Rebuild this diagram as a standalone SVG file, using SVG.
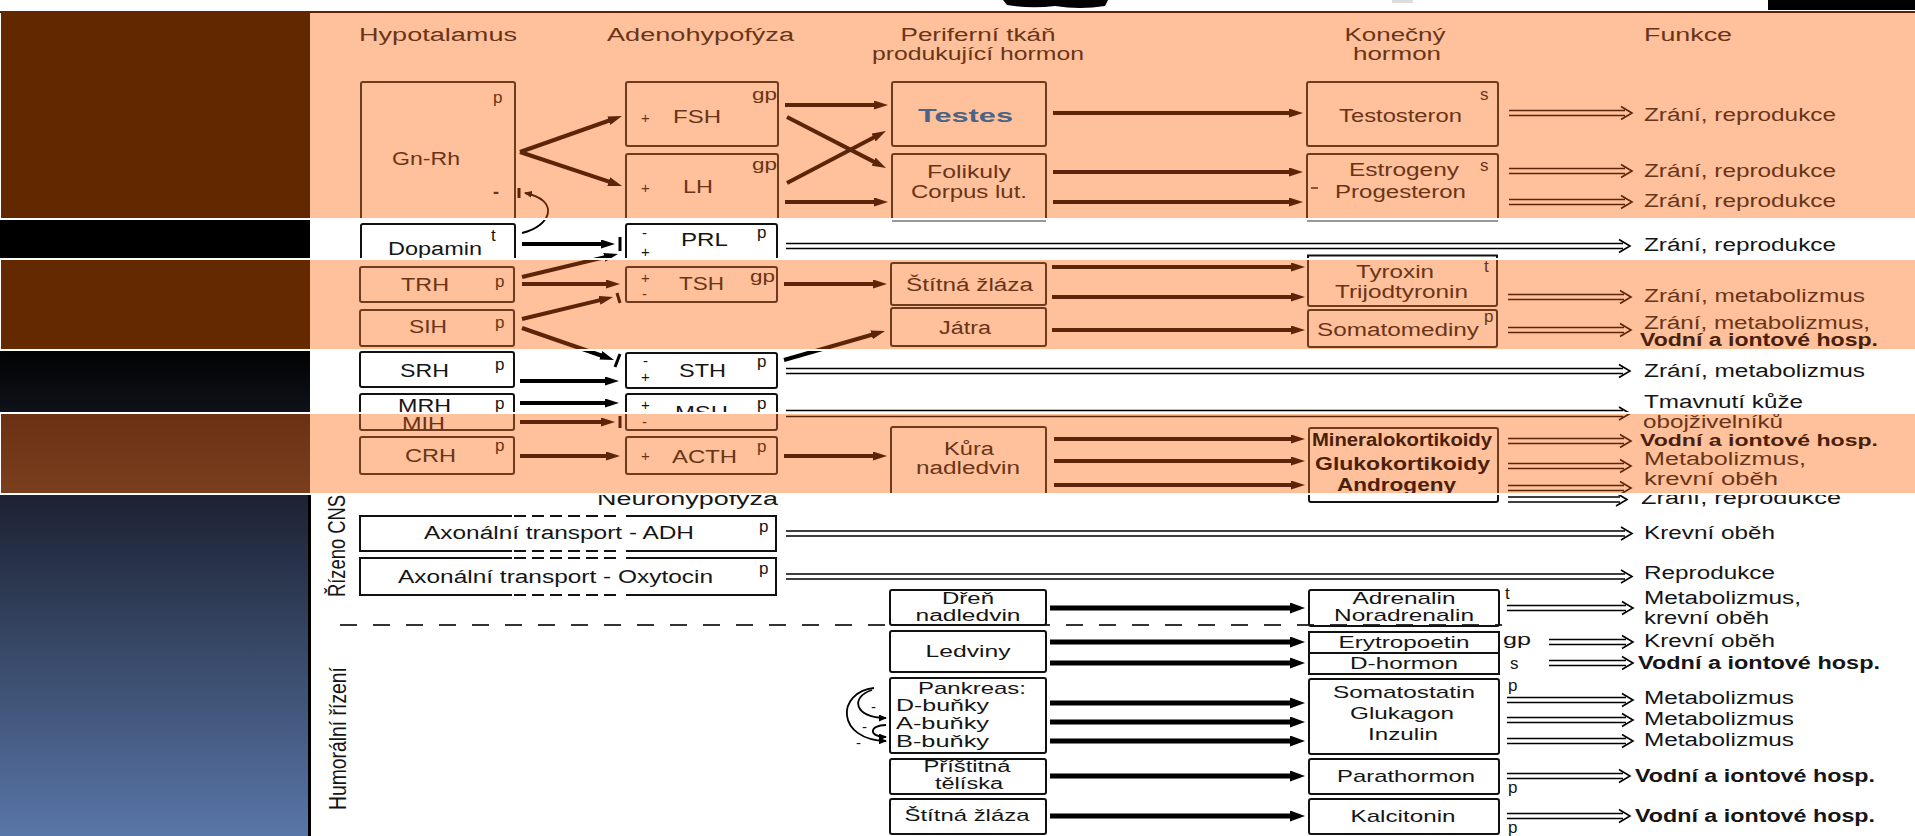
<svg xmlns="http://www.w3.org/2000/svg" width="1915" height="836" viewBox="0 0 1915 836">
<style>
.t{font-family:"Liberation Sans",Arial,sans-serif;font-size:18px}
.k{fill:#151515}
.b{fill:#6a3418}
.bd{font-weight:bold}
.bdb{fill:#4a200c;font-weight:bold}
.s{font-size:17px}
.s16{font-size:16px}
.m{font-size:15px}
.c{text-anchor:middle}
.bk{fill:none;stroke:#111;stroke-width:2}
.bn{fill:none;stroke:#6f3b1d;stroke-width:2}
.ab{fill:none;stroke:#5c2408;stroke-width:4;marker-end:url(#hb)}
.ak{fill:none;stroke:#000;stroke-width:4;marker-end:url(#hk)}
.akl{fill:none;stroke:#000;stroke-width:5;marker-end:url(#hkl)}
.dk{fill:none;stroke:#000;stroke-width:1.6}
.db{fill:none;stroke:#5c2408;stroke-width:1.6}
.bar{fill:none;stroke-width:3}
.arc{fill:none;stroke-width:1.8}
</style>
<defs>
<marker id="hb" markerUnits="userSpaceOnUse" markerWidth="14" markerHeight="9" refX="5" refY="4.5" orient="auto"><path d="M0,0L14,4.5L0,9z" fill="#5c2408"/></marker>
<marker id="hk" markerUnits="userSpaceOnUse" markerWidth="14" markerHeight="9" refX="5" refY="4.5" orient="auto"><path d="M0,0L14,4.5L0,9z" fill="#000"/></marker>
<marker id="hkl" markerUnits="userSpaceOnUse" markerWidth="15" markerHeight="11" refX="5" refY="5.5" orient="auto"><path d="M0,0L15,5.5L0,11z" fill="#000"/></marker>
<marker id="hs" markerUnits="userSpaceOnUse" markerWidth="8" markerHeight="7" refX="7" refY="3.5" orient="auto"><path d="M0,0L8,3.5L0,7z" fill="#000"/></marker>
<marker id="hsb" markerUnits="userSpaceOnUse" markerWidth="8" markerHeight="7" refX="7" refY="3.5" orient="auto"><path d="M0,0L8,3.5L0,7z" fill="#5c2408"/></marker>
<linearGradient id="g4" x1="0" y1="0" x2="0" y2="1"><stop offset="0" stop-color="#020202"/><stop offset="1" stop-color="#0e121a"/></linearGradient>
<linearGradient id="g5" x1="0" y1="0" x2="0" y2="1"><stop offset="0" stop-color="#6a3112"/><stop offset="1" stop-color="#7b3f1f"/></linearGradient>
<linearGradient id="g6" x1="0" y1="0" x2="0" y2="1"><stop offset="0" stop-color="#1c2232"/><stop offset="1" stop-color="#5976a8"/></linearGradient>
<clipPath id="cw"><rect x="310" y="220" width="1605" height="38"/><rect x="310" y="351" width="1605" height="61"/><rect x="310" y="495" width="1605" height="341"/></clipPath>
<clipPath id="cp"><rect x="310" y="13" width="1605" height="205"/><rect x="310" y="260" width="1605" height="89"/><rect x="310" y="414" width="1605" height="79"/></clipPath>
</defs>

<rect x="0" y="0" width="1915" height="836" fill="#fff"/>
<g id="top-strip">
<path d="M1003,0H1108L1105,6Q1080,10 1055,6Q1030,9 1007,5Z" fill="#000"/>
<rect x="1768" y="0" width="147" height="10" fill="#000"/>
<rect x="1392" y="0" width="21" height="3" fill="#ddd"/>
<rect x="0" y="11" width="1915" height="2" fill="#5a2400"/>
</g>

<g id="layer-white" clip-path="url(#cw)">
<g id="connectors-white">
<path d="M522,233C552,226 560,200 524,193" class="arc" stroke="#000" stroke-width="2"/>
<path d="M522,244H606" class="ak" stroke-width="5"/>
<path d="M620,237V251" class="bar" stroke="#000"/>
<path d="M522,277L609.2,256.1" class="ak"/>
<path d="M522,328L605.5,357" class="ak"/>
<path d="M620,354L615,367" class="bar" stroke="#000" stroke-width="2"/>
<path d="M784,360L876.3,333.5" class="ak"/>
<path d="M520,381H610" class="ak"/>
<path d="M520,403H610" class="ak"/>
<path d="M786,243.5H1623M786,248.5H1623M1619,239.5L1630,246L1619,252.5" class="dk"/>
<path d="M786,368.5H1623M786,373.5H1623M1619,364.5L1630,371L1619,377.5" class="dk"/>
<path d="M786,410.5H1623M786,416.5H1623M1619,407L1630,413.5L1619,420" class="dk"/>
<path d="M1508,497H1620M1508,502H1620M1616,493L1627,499.5L1616,506" class="dk"/>
<path d="M786,531H1625M786,536H1625M1621,527L1632,533.5L1621,540" class="dk"/>
<path d="M786,574H1625M786,579H1625M1621,570L1632,576.5L1621,583" class="dk"/>
<path d="M340,625H1502" fill="none" stroke="#333" stroke-width="2" stroke-dasharray="17 16"/>
<path d="M1050,608H1295" class="akl"/>
<path d="M1050,642H1295" class="akl"/>
<path d="M1050,663H1295" class="akl"/>
<path d="M1050,703H1295" class="akl"/>
<path d="M1050,722H1295" class="akl"/>
<path d="M1050,741H1295" class="akl"/>
<path d="M1050,776H1295" class="akl"/>
<path d="M1050,816H1295" class="akl"/>
<path d="M1507,605.5H1626M1507,610.5H1626M1622,601.5L1633,608L1622,614.5" class="dk"/>
<path d="M1549,639.5H1626M1549,644.5H1626M1622,635.5L1633,642L1622,648.5" class="dk"/>
<path d="M1549,660.5H1626M1549,665.5H1626M1622,656.5L1633,663L1622,669.5" class="dk"/>
<path d="M1507,697.5H1626M1507,702.5H1626M1622,693.5L1633,700L1622,706.5" class="dk"/>
<path d="M1507,717.5H1626M1507,722.5H1626M1622,713.5L1633,720L1622,726.5" class="dk"/>
<path d="M1507,738.5H1626M1507,743.5H1626M1622,734.5L1633,741L1622,747.5" class="dk"/>
<path d="M1507,773.5H1623M1507,778.5H1623M1619,769.5L1630,776L1619,782.5" class="dk"/>
<path d="M1507,813.5H1623M1507,818.5H1623M1619,809.5L1630,816L1619,822.5" class="dk"/>
<path d="M874,688C836,692 836,740 886,741" class="arc" stroke="#000" marker-end="url(#hs)"/>
<path d="M872,690C850,697 854,718 886,718" class="arc" stroke="#000" marker-end="url(#hs)"/>
<path d="M886,725C869,725 868,737 886,737" class="arc" stroke="#000" marker-end="url(#hs)"/>
<path d="M892,221H1046M1307,221H1498" stroke="#777" stroke-width="1.5" fill="none"/>
</g>
<g id="node-dopamin">
<rect x="361" y="224" width="154" height="40" rx="2" class="bk" stroke-width="3"/>
<text x="491" y="241" class="t s k">t</text>
<text x="388" y="255" class="t k" textLength="94" lengthAdjust="spacingAndGlyphs">Dopamin</text>
</g>
<g id="node-prl">
<rect x="626" y="224" width="151" height="40" rx="2" class="bk" stroke-width="3"/>
<text x="642" y="238" class="t m k">-</text>
<text x="641" y="257" class="t m k">+</text>
<text x="681" y="246" class="t k" textLength="47" lengthAdjust="spacingAndGlyphs">PRL</text>
<text x="757" y="238" class="t s k">p</text>
</g>
<g id="node-tyroxin-top"><path d="M1308,262V255.5H1497V262" class="bk"/></g>
<text x="1644" y="251" class="t k" textLength="192" lengthAdjust="spacingAndGlyphs">Zrání, reprodukce</text>
<g id="node-srh">
<rect x="360" y="352" width="154" height="35" rx="2" class="bk"/>
<text x="400" y="377" class="t k" textLength="49" lengthAdjust="spacingAndGlyphs">SRH</text>
<text x="495" y="370" class="t s k">p</text>
</g>
<g id="node-sth">
<rect x="626" y="353" width="151" height="35" rx="2" class="bk"/>
<text x="643" y="366" class="t m k">-</text>
<text x="641" y="382" class="t m k">+</text>
<text x="679" y="377" class="t k" textLength="47" lengthAdjust="spacingAndGlyphs">STH</text>
<text x="757" y="367" class="t s k">p</text>
</g>
<text x="1644" y="377" class="t k" textLength="221" lengthAdjust="spacingAndGlyphs">Zrání, metabolizmus</text>
<g id="node-mrh">
<rect x="360" y="394" width="154" height="36" rx="2" class="bk"/>
<text x="398" y="412" class="t k" textLength="53" lengthAdjust="spacingAndGlyphs">MRH</text>
<text x="495" y="409" class="t s k">p</text>
</g>
<g id="node-msh">
<rect x="626" y="394" width="151" height="36" rx="2" class="bk"/>
<text x="641" y="410" class="t m k">+</text>
<text x="675" y="419" class="t k" textLength="53" lengthAdjust="spacingAndGlyphs">MSH</text>
<text x="757" y="409" class="t s k">p</text>
</g>
<text x="1644" y="408" class="t k" textLength="159" lengthAdjust="spacingAndGlyphs">Tmavnutí kůže</text>
<g id="node-mineral-bottom"><rect x="1309" y="428" width="189" height="74" rx="2" class="bk"/></g>
<text x="1641" y="504" class="t k" textLength="200" lengthAdjust="spacingAndGlyphs">Zrání, reprodukce</text>
<text x="597" y="505" class="t k" textLength="181" lengthAdjust="spacingAndGlyphs">Neurohypofyza</text>
<text transform="translate(345,597) rotate(-90) scale(1,1.3)" class="t k" textLength="102" lengthAdjust="spacingAndGlyphs">Řízeno CNS</text>
<text transform="translate(346,810) rotate(-90) scale(1,1.3)" class="t k" textLength="143" lengthAdjust="spacingAndGlyphs">Humorální řízení</text>
<g id="node-adh">
<path d="M512,516H360V551H512M626,516H776V551H626" class="bk"/>
<path d="M514,516H622M514,551H622" fill="none" stroke="#111" stroke-width="2" stroke-dasharray="12 6"/>
<text x="424" y="539" class="t k" textLength="270" lengthAdjust="spacingAndGlyphs">Axonální transport - ADH</text>
<text x="759" y="532" class="t s k">p</text>
</g>
<g id="node-oxytocin">
<path d="M512,558H360V595H512M626,558H776V595H626" class="bk"/>
<path d="M514,558H622M514,595H622" fill="none" stroke="#111" stroke-width="2" stroke-dasharray="12 6"/>
<text x="398" y="583" class="t k" textLength="315" lengthAdjust="spacingAndGlyphs">Axonální transport - Oxytocin</text>
<text x="759" y="574" class="t s k">p</text>
</g>
<text x="1644" y="539" class="t k" textLength="131" lengthAdjust="spacingAndGlyphs">Krevní oběh</text>
<text x="1644" y="579" class="t k" textLength="131" lengthAdjust="spacingAndGlyphs">Reprodukce</text>
<g id="node-dren">
<rect x="890" y="590" width="156" height="35" rx="2" class="bk"/>
<text x="968" y="604" class="t s16 k c" textLength="52" lengthAdjust="spacingAndGlyphs">Dřeň</text>
<text x="968" y="621" class="t s16 k c" textLength="105" lengthAdjust="spacingAndGlyphs">nadledvin</text>
</g>
<g id="node-adrenalin">
<rect x="1309" y="590" width="190" height="36" rx="2" class="bk"/>
<text x="1404" y="604" class="t s k c" textLength="103" lengthAdjust="spacingAndGlyphs">Adrenalin</text>
<text x="1404" y="621" class="t s k c" textLength="140" lengthAdjust="spacingAndGlyphs">Noradrenalin</text>
<text x="1505" y="599" class="t s k">t</text>
</g>
<text x="1644" y="604" class="t k" textLength="157" lengthAdjust="spacingAndGlyphs">Metabolizmus,</text>
<text x="1644" y="624" class="t k" textLength="125" lengthAdjust="spacingAndGlyphs">krevní oběh</text>
<g id="node-ledviny">
<rect x="890" y="631" width="156" height="41" rx="2" class="bk"/>
<text x="968" y="657" class="t s k c" textLength="85" lengthAdjust="spacingAndGlyphs">Ledviny</text>
</g>
<g id="node-erytropoetin">
<rect x="1309" y="632" width="190" height="21" class="bk"/>
<text x="1404" y="648" class="t s k c" textLength="131" lengthAdjust="spacingAndGlyphs">Erytropoetin</text>
<text x="1503" y="645" class="t s k" textLength="28" lengthAdjust="spacingAndGlyphs">gp</text>
</g>
<g id="node-dhormon">
<rect x="1309" y="653" width="190" height="21" class="bk"/>
<text x="1404" y="669" class="t s k c" textLength="108" lengthAdjust="spacingAndGlyphs">D-hormon</text>
<text x="1510" y="669" class="t s k">s</text>
</g>
<text x="1644" y="647" class="t k" textLength="131" lengthAdjust="spacingAndGlyphs">Krevní oběh</text>
<text x="1638" y="669" class="t k bd" textLength="242" lengthAdjust="spacingAndGlyphs">Vodní a iontové hosp.</text>
<g id="node-pankreas">
<rect x="890" y="678" width="156" height="75" rx="2" class="bk"/>
<text x="918" y="694" class="t s k" textLength="108" lengthAdjust="spacingAndGlyphs">Pankreas:</text>
<text x="896" y="711" class="t s k" textLength="93" lengthAdjust="spacingAndGlyphs">D-buňky</text>
<text x="896" y="729" class="t s k" textLength="93" lengthAdjust="spacingAndGlyphs">A-buňky</text>
<text x="896" y="747" class="t s k" textLength="93" lengthAdjust="spacingAndGlyphs">B-buňky</text>
<text x="871" y="712" class="t m k">-</text>
<text x="862" y="732" class="t m k">-</text>
<text x="856" y="748" class="t m k">-</text>
</g>
<g id="node-somatostatin">
<rect x="1309" y="679" width="190" height="75" rx="2" class="bk"/>
<text x="1404" y="698" class="t s k c" textLength="142" lengthAdjust="spacingAndGlyphs">Somatostatin</text>
<text x="1402" y="719" class="t s k c" textLength="104" lengthAdjust="spacingAndGlyphs">Glukagon</text>
<text x="1403" y="740" class="t s k c" textLength="70" lengthAdjust="spacingAndGlyphs">Inzulin</text>
<text x="1508" y="691" class="t s k">p</text>
</g>
<text x="1644" y="704" class="t k" textLength="150" lengthAdjust="spacingAndGlyphs">Metabolizmus</text>
<text x="1644" y="725" class="t k" textLength="150" lengthAdjust="spacingAndGlyphs">Metabolizmus</text>
<text x="1644" y="746" class="t k" textLength="150" lengthAdjust="spacingAndGlyphs">Metabolizmus</text>
<g id="node-pristitna">
<rect x="890" y="759" width="156" height="35" rx="2" class="bk"/>
<text x="967" y="772" class="t s16 k c" textLength="87" lengthAdjust="spacingAndGlyphs">Příštitná</text>
<text x="969" y="789" class="t s16 k c" textLength="68" lengthAdjust="spacingAndGlyphs">tělíska</text>
</g>
<g id="node-parathormon">
<rect x="1309" y="759" width="190" height="35" rx="2" class="bk"/>
<text x="1406" y="782" class="t s k c" textLength="138" lengthAdjust="spacingAndGlyphs">Parathormon</text>
<text x="1508" y="793" class="t s k">p</text>
</g>
<text x="1635" y="782" class="t k bd" textLength="240" lengthAdjust="spacingAndGlyphs">Vodní a iontové hosp.</text>
<g id="node-stitna2">
<rect x="890" y="799" width="156" height="35" rx="2" class="bk"/>
<text x="967" y="821" class="t s k c" textLength="125" lengthAdjust="spacingAndGlyphs">Štítná žláza</text>
</g>
<g id="node-kalcitonin">
<rect x="1309" y="799" width="190" height="35" rx="2" class="bk"/>
<text x="1403" y="822" class="t s k c" textLength="105" lengthAdjust="spacingAndGlyphs">Kalcitonin</text>
<text x="1508" y="833" class="t s k">p</text>
</g>
<text x="1635" y="822" class="t k bd" textLength="240" lengthAdjust="spacingAndGlyphs">Vodní a iontové hosp.</text>
</g>

<g id="peach-bands" fill="#fec19b">
<rect x="310" y="13" width="1605" height="205"/>
<rect x="310" y="260" width="1605" height="89"/>
<rect x="310" y="414" width="1605" height="79"/>
</g>

<g id="layer-peach" clip-path="url(#cp)">
<g id="connectors-peach">
<path d="M520,152L613.5,119" class="ab"/>
<path d="M520,152L613.5,183.2" class="ab"/>
<path d="M785,105H879" class="ab"/>
<path d="M787,117L878,163.9" class="ab"/>
<path d="M787,183L878,135.2" class="ab"/>
<path d="M785,202H879" class="ab"/>
<path d="M1053,113H1294" class="ab"/>
<path d="M1053,172H1294" class="ab"/>
<path d="M1053,202H1294" class="ab"/>
<path d="M522,233C552,226 560,200 525,193" class="arc" stroke="#5c2408" stroke-width="2" marker-end="url(#hsb)"/>
<path d="M519,188V198" class="bar" stroke="#5c2408" stroke-width="2"/>
<path d="M522,277L609.2,256.1" class="ab"/>
<path d="M522,284H611" class="ab"/>
<path d="M522,319L604.3,299.1" class="ab"/>
<path d="M617,293L620,303" class="bar" stroke="#5c2408"/>
<path d="M522,328L605.5,357" class="ab"/>
<path d="M784,284H878" class="ab"/>
<path d="M1052,267H1296" class="ab"/>
<path d="M1052,297H1296" class="ab"/>
<path d="M784,360L876.3,333.5" class="ab"/>
<path d="M1052,330H1296" class="ab"/>
<path d="M520,422H606" class="ab"/>
<path d="M620,416V428" class="bar" stroke="#5c2408"/>
<path d="M520,456H611" class="ab"/>
<path d="M784,456H878" class="ab"/>
<path d="M1054,439H1296" class="ab"/>
<path d="M1054,461H1296" class="ab"/>
<path d="M1054,485H1296" class="ab"/>
<path d="M1509,110.5H1625M1509,115.5H1625M1621,106.5L1632,113L1621,119.5" class="db"/>
<path d="M1509,168.5H1625M1509,173.5H1625M1621,164.5L1632,171L1621,177.5" class="db"/>
<path d="M1509,199.5H1625M1509,204.5H1625M1621,195.5L1632,202L1621,208.5" class="db"/>
<path d="M1508,294.5H1624M1508,299.5H1624M1620,290.5L1631,297L1620,303.5" class="db"/>
<path d="M1508,327.5H1624M1508,332.5H1624M1620,323.5L1631,330L1620,336.5" class="db"/>
<path d="M786,410.5H1623M786,416.5H1623M1619,407L1630,413.5L1619,420" class="db"/>
<path d="M1508,438.5H1624M1508,443.5H1624M1620,434.5L1631,441L1620,447.5" class="db"/>
<path d="M1508,463.5H1624M1508,468.5H1624M1620,459.5L1631,466L1620,472.5" class="db"/>
<path d="M1508,485.5H1624M1508,490.5H1624M1620,481.5L1631,488L1620,494.5" class="db"/>
</g>
<g id="headers">
<text x="359" y="41" class="t b" textLength="158" lengthAdjust="spacingAndGlyphs">Hypotalamus</text>
<text x="607" y="41" class="t b" textLength="187" lengthAdjust="spacingAndGlyphs">Adenohypofýza</text>
<text x="978" y="41" class="t b c" textLength="155" lengthAdjust="spacingAndGlyphs">Periferní tkáň</text>
<text x="978" y="60" class="t b c" textLength="212" lengthAdjust="spacingAndGlyphs">produkující hormon</text>
<text x="1395" y="41" class="t b c" textLength="101" lengthAdjust="spacingAndGlyphs">Konečný</text>
<text x="1397" y="60" class="t b c" textLength="88" lengthAdjust="spacingAndGlyphs">hormon</text>
<text x="1644" y="41" class="t b" textLength="88" lengthAdjust="spacingAndGlyphs">Funkce</text>
</g>
<g id="node-gnrh">
<rect x="361" y="82" width="154" height="142" rx="2" class="bn"/>
<text x="493" y="103" class="t s b">p</text>
<text x="392" y="165" class="t b" textLength="68" lengthAdjust="spacingAndGlyphs">Gn-Rh</text>
<text x="493" y="198" class="t b bd">-</text>
</g>
<g id="node-fsh">
<rect x="626" y="82" width="152" height="64" rx="2" class="bn"/>
<text x="752" y="100" class="t s b" textLength="25" lengthAdjust="spacingAndGlyphs">gp</text>
<text x="641" y="123" class="t m b">+</text>
<text x="673" y="123" class="t b" textLength="48" lengthAdjust="spacingAndGlyphs">FSH</text>
</g>
<g id="node-lh">
<rect x="626" y="154" width="152" height="70" rx="2" class="bn"/>
<text x="752" y="170" class="t s b" textLength="25" lengthAdjust="spacingAndGlyphs">gp</text>
<text x="641" y="193" class="t m b">+</text>
<text x="683" y="193" class="t b" textLength="30" lengthAdjust="spacingAndGlyphs">LH</text>
</g>
<g id="node-testes"><rect x="892" y="82" width="154" height="64" rx="2" class="bn"/></g>
<g id="node-folikuly">
<rect x="892" y="154" width="154" height="70" rx="2" class="bn"/>
<text x="969" y="178" class="t b c" textLength="84" lengthAdjust="spacingAndGlyphs">Folikuly</text>
<text x="969" y="198" class="t b c" textLength="116" lengthAdjust="spacingAndGlyphs">Corpus lut.</text>
</g>
<g id="node-testosteron">
<rect x="1307" y="82" width="191" height="64" rx="2" class="bn"/>
<text x="1480" y="100" class="t s b">s</text>
<text x="1339" y="122" class="t b" textLength="123" lengthAdjust="spacingAndGlyphs">Testosteron</text>
</g>
<g id="node-estrogeny">
<rect x="1307" y="154" width="191" height="70" rx="2" class="bn"/>
<text x="1480" y="171" class="t s b">s</text>
<text x="1349" y="176" class="t b" textLength="110" lengthAdjust="spacingAndGlyphs">Estrogeny</text>
<path d="M1311,188H1318" stroke="#6a3418" stroke-width="1.5"/>
<text x="1335" y="198" class="t b" textLength="131" lengthAdjust="spacingAndGlyphs">Progesteron</text>
</g>
<text x="1644" y="121" class="t b" textLength="192" lengthAdjust="spacingAndGlyphs">Zrání, reprodukce</text>
<text x="1644" y="177" class="t b" textLength="192" lengthAdjust="spacingAndGlyphs">Zrání, reprodukce</text>
<text x="1644" y="207" class="t b" textLength="192" lengthAdjust="spacingAndGlyphs">Zrání, reprodukce</text>
<g id="node-trh">
<rect x="360" y="267" width="154" height="35" rx="2" class="bn"/>
<text x="401" y="291" class="t b" textLength="48" lengthAdjust="spacingAndGlyphs">TRH</text>
<text x="495" y="287" class="t s b">p</text>
</g>
<g id="node-tsh">
<rect x="626" y="267" width="151" height="35" rx="2" class="bn"/>
<text x="641" y="283" class="t m b">+</text>
<text x="642" y="299" class="t m b">-</text>
<text x="679" y="290" class="t b" textLength="45" lengthAdjust="spacingAndGlyphs">TSH</text>
<text x="750" y="282" class="t s b" textLength="25" lengthAdjust="spacingAndGlyphs">gp</text>
</g>
<g id="node-sih">
<rect x="360" y="310" width="154" height="36" rx="2" class="bn"/>
<text x="409" y="333" class="t b" textLength="38" lengthAdjust="spacingAndGlyphs">SIH</text>
<text x="495" y="328" class="t s b">p</text>
</g>
<g id="node-stitna">
<rect x="891" y="263" width="155" height="42" rx="2" class="bn"/>
<text x="906" y="291" class="t b" textLength="127" lengthAdjust="spacingAndGlyphs">Štítná žláza</text>
</g>
<g id="node-tyroxin">
<rect x="1308" y="255" width="189" height="51" rx="2" class="bn"/>
<text x="1356" y="278" class="t b" textLength="78" lengthAdjust="spacingAndGlyphs">Tyroxin</text>
<text x="1335" y="298" class="t b" textLength="133" lengthAdjust="spacingAndGlyphs">Trijodtyronin</text>
<text x="1484" y="272" class="t s b">t</text>
</g>
<text x="1644" y="302" class="t b" textLength="221" lengthAdjust="spacingAndGlyphs">Zrání, metabolizmus</text>
<g id="node-jatra">
<rect x="891" y="308" width="155" height="38" rx="2" class="bn"/>
<text x="939" y="334" class="t b" textLength="52" lengthAdjust="spacingAndGlyphs">Játra</text>
</g>
<g id="node-somatomediny">
<rect x="1308" y="310" width="189" height="37" rx="2" class="bn"/>
<text x="1317" y="336" class="t b" textLength="162" lengthAdjust="spacingAndGlyphs">Somatomediny</text>
<text x="1484" y="322" class="t s b">p</text>
</g>
<text x="1644" y="329" class="t b" textLength="226" lengthAdjust="spacingAndGlyphs">Zrání, metabolizmus,</text>
<text x="1640" y="346" class="t bdb" textLength="238" lengthAdjust="spacingAndGlyphs">Vodní a iontové hosp.</text>
<g id="node-mih">
<rect x="360" y="394" width="154" height="36" rx="2" class="bn"/>
<text x="402" y="430" class="t b" textLength="43" lengthAdjust="spacingAndGlyphs">MIH</text>
</g>
<g id="node-msh-lower">
<rect x="626" y="394" width="151" height="36" rx="2" class="bn"/>
<text x="642" y="427" class="t m b">-</text>
</g>
<text x="1643" y="428" class="t b" textLength="140" lengthAdjust="spacingAndGlyphs">obojživelníků</text>
<g id="node-crh">
<rect x="360" y="437" width="154" height="37" rx="2" class="bn"/>
<text x="405" y="462" class="t b" textLength="51" lengthAdjust="spacingAndGlyphs">CRH</text>
<text x="495" y="451" class="t s b">p</text>
</g>
<g id="node-acth">
<rect x="626" y="437" width="151" height="37" rx="2" class="bn"/>
<text x="641" y="461" class="t m b">+</text>
<text x="672" y="463" class="t b" textLength="65" lengthAdjust="spacingAndGlyphs">ACTH</text>
<text x="757" y="452" class="t s b">p</text>
</g>
<g id="node-kura">
<rect x="891" y="427" width="155" height="75" rx="2" class="bn"/>
<text x="969" y="455" class="t b c" textLength="50" lengthAdjust="spacingAndGlyphs">Kůra</text>
<text x="968" y="474" class="t b c" textLength="104" lengthAdjust="spacingAndGlyphs">nadledvin</text>
</g>
<g id="node-mineral">
<rect x="1309" y="428" width="189" height="74" rx="2" class="bn"/>
<text x="1312" y="446" class="t bdb" textLength="180" lengthAdjust="spacingAndGlyphs">Mineralokortikoidy</text>
<text x="1315" y="470" class="t bdb" textLength="175" lengthAdjust="spacingAndGlyphs">Glukokortikoidy</text>
<text x="1337" y="491" class="t bdb" textLength="119" lengthAdjust="spacingAndGlyphs">Androgeny</text>
</g>
<text x="1640" y="446" class="t bdb s" textLength="238" lengthAdjust="spacingAndGlyphs">Vodní a iontové hosp.</text>
<text x="1644" y="465" class="t b" textLength="162" lengthAdjust="spacingAndGlyphs">Metabolizmus,</text>
<text x="1644" y="485" class="t b" textLength="134" lengthAdjust="spacingAndGlyphs">krevní oběh</text>
</g>

<g id="sidebar">
<rect x="1" y="11" width="309" height="207" fill="#622800"/>
<rect x="0" y="220" width="310" height="38" fill="#000"/>
<rect x="1" y="260" width="309" height="89" fill="#652900"/>
<rect x="0" y="351" width="310" height="61" fill="url(#g4)"/>
<rect x="1" y="414" width="309" height="79" fill="url(#g5)"/>
<rect x="0" y="495" width="308" height="341" fill="url(#g6)"/>
<rect x="308" y="495" width="3" height="341" fill="#000"/>
</g>
<g id="label-testes">
<text x="918" y="122" class="t" font-size="27" font-weight="bold" fill="#4b6385" textLength="95" lengthAdjust="spacingAndGlyphs">Testes</text>
</g>
</svg>
